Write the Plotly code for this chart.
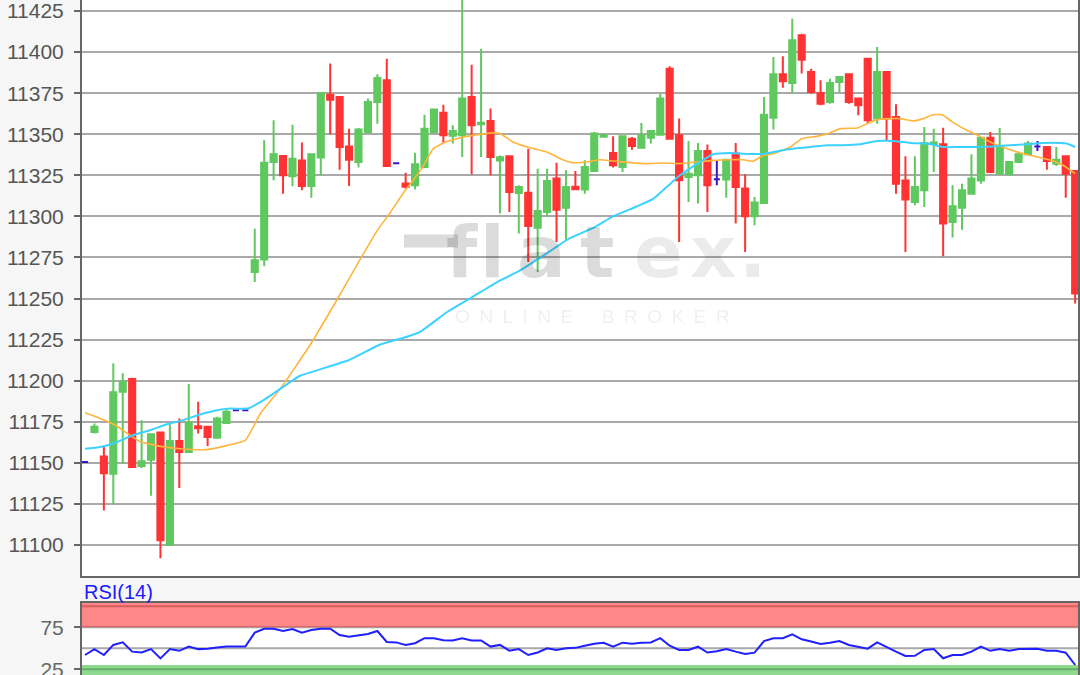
import plotly.graph_objects as go

# ---------------- data ----------------
opens = [11150.5, 11168.8, 11153.9, 11143.3, 11193.3, 11201.0, 11148.0, 11151.9, 11168.4, 11100.1,
         11163.3, 11156.6, 11172.2, 11171.9, 11165.3, 11174.3, 11182.0, 11182.0, 11266.2, 11273.7,
         11333.1, 11336.8, 11324.4, 11334.0, 11318.5, 11335.8, 11374.1, 11372.7, 11342.6, 11333.1,
         11351.4, 11369.6, 11382.8, 11332.3, 11320.0, 11318.9, 11330.1, 11351.4, 11363.0, 11349.0,
         11349.3, 11372.7, 11356.0, 11358.1, 11334.0, 11336.6, 11314.2, 11314.4, 11293.0, 11302.7,
         11323.0, 11305.3, 11318.0, 11316.3, 11327.6, 11348.5, 11338.6, 11330.1, 11347.3, 11341.8,
         11347.9, 11349.7, 11389.9, 11349.3, 11324.0, 11325.0, 11339.8, 11322.6, 11322.4, 11338.2,
         11316.9, 11300.0, 11308.2, 11360.1, 11386.5, 11381.2, 11410.2, 11387.9, 11375.1, 11369.6,
         11381.8, 11386.5, 11371.7, 11396.0, 11359.5, 11387.9, 11360.5, 11321.9, 11308.8, 11315.9,
         11344.0, 11343.9, 11296.6, 11305.3, 11313.8, 11321.9, 11347.9, 11326.0, 11325.6, 11333.1,
         11337.8, 11342.6, 11342.2, 11332.1, 11336.6, 11327.6]
highs = [11150.5, 11173.9, 11160.2, 11210.6, 11204.5, 11201.8, 11175.9, 11167.4, 11168.4, 11173.5,
         11177.0, 11198.0, 11187.2, 11171.9, 11178.0, 11182.5, 11182.0, 11182.0, 11292.5, 11346.3,
         11358.5, 11337.0, 11355.8, 11344.9, 11338.0, 11375.1, 11393.0, 11373.0, 11353.4, 11353.8,
         11371.7, 11386.5, 11396.0, 11332.3, 11326.6, 11338.8, 11361.9, 11365.6, 11368.0, 11355.4,
         11432.0, 11392.3, 11402.0, 11365.6, 11337.0, 11337.0, 11319.0, 11341.2, 11329.0, 11329.0,
         11332.7, 11328.0, 11327.6, 11334.1, 11351.4, 11350.0, 11348.7, 11349.3, 11348.3, 11356.8,
         11352.0, 11374.7, 11391.3, 11359.5, 11345.9, 11344.7, 11343.7, 11334.1, 11334.5, 11344.7,
         11325.6, 11311.8, 11372.7, 11397.0, 11397.4, 11420.3, 11411.2, 11389.9, 11382.8, 11383.8,
         11385.2, 11386.5, 11371.7, 11396.6, 11403.1, 11387.9, 11368.2, 11336.6, 11336.6, 11354.4,
         11353.4, 11354.0, 11318.9, 11319.9, 11337.8, 11348.3, 11351.4, 11353.8, 11333.1, 11339.2,
         11345.9, 11345.9, 11342.2, 11342.2, 11336.6, 11327.6]
lows = [11150.5, 11167.8, 11120.9, 11124.6, 11149.4, 11146.8, 11146.8, 11130.0, 11091.9, 11100.0,
        11134.7, 11156.6, 11167.8, 11160.2, 11164.7, 11174.3, 11182.0, 11182.0, 11260.0, 11269.6,
        11322.0, 11313.8, 11318.3, 11315.9, 11311.4, 11325.0, 11350.0, 11328.4, 11318.5, 11329.7,
        11350.4, 11356.4, 11330.0, 11332.3, 11317.0, 11316.3, 11329.7, 11351.0, 11344.7, 11344.3,
        11336.2, 11325.6, 11336.2, 11325.0, 11301.7, 11302.7, 11289.5, 11272.3, 11266.2, 11299.6,
        11284.4, 11285.0, 11316.5, 11313.8, 11327.0, 11348.0, 11329.7, 11327.0, 11340.6, 11341.8,
        11344.3, 11349.7, 11347.0, 11284.4, 11308.8, 11307.8, 11302.7, 11318.9, 11311.4, 11295.6,
        11278.3, 11294.6, 11308.0, 11352.8, 11378.3, 11375.1, 11386.9, 11374.7, 11367.6, 11368.6,
        11375.7, 11368.6, 11361.5, 11356.8, 11356.4, 11346.3, 11313.8, 11278.3, 11306.7, 11305.7,
        11327.0, 11275.7, 11287.1, 11291.9, 11313.8, 11319.9, 11327.0, 11325.6, 11325.6, 11333.1,
        11337.8, 11339.8, 11328.4, 11330.7, 11311.4, 11246.9]
closes = [11150.5, 11171.9, 11143.7, 11192.9, 11199.4, 11147.4, 11151.0, 11167.4, 11102.9, 11163.3,
          11156.6, 11174.3, 11171.0, 11165.7, 11177.0, 11181.0, 11182.0, 11182.0, 11273.3, 11332.7,
          11337.8, 11325.0, 11335.1, 11318.5, 11337.8, 11375.1, 11371.0, 11342.2, 11334.5, 11352.8,
          11369.6, 11384.2, 11330.7, 11332.3, 11318.0, 11331.7, 11353.4, 11365.0, 11349.3, 11352.0,
          11371.7, 11355.4, 11357.0, 11336.2, 11336.0, 11314.9, 11317.9, 11294.2, 11303.3, 11321.5,
          11304.1, 11317.9, 11316.5, 11330.1, 11350.4, 11349.5, 11331.1, 11348.7, 11342.8, 11349.3,
          11352.0, 11371.7, 11347.3, 11322.0, 11326.0, 11339.8, 11318.9, 11322.6, 11334.5, 11317.9,
          11300.0, 11308.4, 11361.9, 11386.5, 11382.2, 11407.2, 11395.4, 11375.7, 11368.6, 11381.2,
          11384.8, 11369.6, 11367.6, 11358.5, 11387.9, 11359.5, 11319.9, 11310.2, 11317.9, 11344.7,
          11345.0, 11295.6, 11306.1, 11315.9, 11323.0, 11347.9, 11327.0, 11342.2, 11333.1, 11337.8,
          11344.3, 11342.6, 11333.7, 11334.5, 11326.0, 11253.0]
# candles with open == close (drawn in blue)
unchanged = [0, 16, 17, 33, 67, 101]

# moving averages: (candle position, value) readings
ma_fast_x = [0, 1.6, 3.2, 4.2, 5.8, 8.0, 10.1, 12.9, 15.1, 17.0,
             18.6, 20.7, 23.9, 26.8, 28.1, 29.5, 31.0, 32.3, 33.7, 34.8,
             35.8, 36.9, 38.0, 39.4, 41.1, 43.3, 44.0, 45.4, 46.9, 49.0,
             50.4, 51.7, 53.2, 54.6, 56.0, 57.8, 59.6, 61.3, 63.1, 64.9,
             66.6, 68.4, 69.8, 70.8, 71.9, 73.0, 74.8, 76.0, 77.6, 79.0,
             80.1, 81.9, 82.9, 84.0, 85.4, 86.4, 87.8, 88.9, 89.9, 90.9,
             92.0, 93.5, 94.9, 96.3, 97.8, 99.2, 101.0, 102.7, 103.7, 105.0]
ma_fast_y = [11180.4, 11177, 11173, 11169, 11163, 11160, 11158.6, 11158, 11160.6, 11163.7,
             11180, 11195, 11222, 11250, 11263, 11277, 11291.5, 11301.7, 11313.8, 11322,
             11330, 11341, 11344.7, 11347.3, 11349.3, 11350.8, 11350.4, 11345.3, 11342.2, 11339.2,
             11335.1, 11332.7, 11333.1, 11334.5, 11333.7, 11332.7, 11332.1, 11332.5, 11332.1, 11333.1,
             11334.1, 11334.5, 11334.5, 11333.5, 11337, 11338.2, 11342.2, 11347.3, 11348.7, 11350.8,
             11353.4, 11353.8, 11356.4, 11358.9, 11359.5, 11359.5, 11358.1, 11359.5, 11361.9, 11361.9,
             11357.4, 11352.4, 11348.7, 11344.3, 11341.2, 11338.6, 11336.2, 11333.7, 11331.1, 11326]
ma_slow_x = [0, 1.6, 3.4, 5.1, 6.9, 8.7, 10.4, 12.2, 14.0, 15.4,
             17.2, 18.9, 20.7, 22.8, 25.0, 28.0, 31.3, 33.4, 35.5, 38.4,
             41.1, 43.7, 46.1, 49.0, 51.4, 53.9, 56.0, 58.5, 60.2, 61.7,
             63.1, 64.9, 66.6, 68.4, 70.2, 71.9, 73.7, 75.1, 76.9, 78.7,
             80.4, 82.2, 84.0, 85.7, 87.5, 89.3, 91.0, 92.8, 94.6, 96.3,
             98.1, 99.9, 101.6, 103.4, 104.1, 105.0]
ma_slow_y = [11158.5, 11159.6, 11162.7, 11166.8, 11169.8, 11173.5, 11176, 11179.4, 11182, 11183,
             11183, 11188, 11195, 11203, 11207, 11212.6, 11222, 11225.5, 11229.6, 11241.8,
             11251, 11260, 11267, 11277.6, 11286.7, 11293, 11300, 11306, 11310.5, 11318,
             11325, 11332, 11337.8, 11338.6, 11338, 11338, 11340, 11341.2, 11342.2, 11343.3,
             11343.3, 11343.9, 11345.9, 11345.9, 11344.7, 11344.3, 11342.2, 11342.2, 11342.2, 11342.6,
             11343.3, 11343.9, 11344.7, 11344.7, 11344.3, 11342.2]

rsi = [42, 49, 42, 54, 57, 46, 45, 49, 38, 49,
       47, 52, 49, 49.5, 51, 52, 52, 52, 68.6, 73.3,
       73.3, 70.6, 73, 68.6, 71.8, 73.3, 73.3, 65.8, 63.8, 65.5,
       67, 70.6, 57.5, 57, 54, 56, 62, 62, 59.5, 59.3,
       62, 59.3, 59.3, 52, 54, 47.2, 49, 42, 45, 50,
       48, 50, 50.5, 53, 55.5, 56.5, 52, 56.7, 55.5, 56.7,
       57, 62, 53, 48, 48, 51.9, 45, 46.5, 49.2, 46,
       43.2, 44.8, 58.5, 61.9, 61.9, 66.7, 60.7, 58, 55, 56.5,
       58.7, 54, 52, 49.5, 57.1, 52, 46, 40.8, 41, 48,
       49.2, 38.1, 42, 42, 46, 51.9, 47, 49.2, 47.1, 49,
       49.5, 49.5, 47.1, 47, 44.8, 30.1]

price_ticks = [11100, 11125, 11150, 11175, 11200, 11225, 11250, 11275,
               11300, 11325, 11350, 11375, 11400, 11425]
rsi_ticks = [25, 75]
rsi_grid = [25, 50, 75, 100]
overbought = 75
oversold = 30

# ---------------- figure ----------------
idx = list(range(len(opens)))
normal = [i for i in idx if i not in unchanged]

GREEN = "#5fc85f"
RED = "#ff3333"
BLUE = "#3a14c8"
AXIS = "#666666"
GRID = "#a9a9a9"

fig = go.Figure()

fig.add_trace(go.Candlestick(
    x=normal,
    open=[opens[i] for i in normal], high=[highs[i] for i in normal],
    low=[lows[i] for i in normal], close=[closes[i] for i in normal],
    increasing=dict(line=dict(color=GREEN, width=2), fillcolor=GREEN),
    decreasing=dict(line=dict(color=RED, width=2), fillcolor=RED),
    whiskerwidth=0, xaxis="x", yaxis="y", hoverinfo="skip",
))
fig.add_trace(go.Candlestick(
    x=unchanged,
    open=[opens[i] for i in unchanged], high=[highs[i] for i in unchanged],
    low=[lows[i] for i in unchanged], close=[closes[i] for i in unchanged],
    increasing=dict(line=dict(color=BLUE, width=2), fillcolor=BLUE),
    decreasing=dict(line=dict(color=BLUE, width=2), fillcolor=BLUE),
    whiskerwidth=0, xaxis="x", yaxis="y", hoverinfo="skip",
))
fig.add_trace(go.Scatter(x=ma_fast_x, y=ma_fast_y, mode="lines",
                         line=dict(color="#ffb43c", width=1.6, shape="spline", smoothing=0.4),
                         xaxis="x", yaxis="y", hoverinfo="skip"))
fig.add_trace(go.Scatter(x=ma_slow_x, y=ma_slow_y, mode="lines",
                         line=dict(color="#3cd2ff", width=2, shape="spline", smoothing=0.4),
                         xaxis="x", yaxis="y", hoverinfo="skip"))
fig.add_trace(go.Scatter(x=idx, y=rsi, mode="lines",
                         line=dict(color="#1f1fff", width=2),
                         xaxis="x2", yaxis="y2", hoverinfo="skip"))

W, H = 1080, 675
L, R = 82, 2
plot_w = W - L - R


def px(xp):
    return (xp - L) / plot_w


def py(yp):
    return (H - yp) / H


xrange_ = [-0.32, 105.3]
TICKFONT = dict(family="Arial, Liberation Sans", size=21, color="#555555")

fig.update_layout(
    width=W, height=H,
    margin=dict(l=L, r=R, t=0, b=0, pad=0, autoexpand=False),
    paper_bgcolor="#f6f6f6", plot_bgcolor="white",
    showlegend=False,
    boxgap=0.35, boxgroupgap=0,
    xaxis=dict(domain=[0, 1], range=xrange_, anchor="y", showgrid=False, zeroline=False,
               showticklabels=False, ticks="", showline=True, linecolor=AXIS, linewidth=2,
               mirror=False, rangeslider=dict(visible=False), automargin=False),
    yaxis=dict(domain=[py(576), 1], range=[11081.1, 11431.7], anchor="x",
               tickmode="array", tickvals=price_ticks, tickformat="d",
               showgrid=True, gridcolor=GRID, gridwidth=2, zeroline=False,
               showline=True, linecolor=AXIS, linewidth=2, mirror=True,
               ticks="outside", ticklen=6, tickwidth=2, tickcolor=AXIS,
               ticklabelstandoff=6, ticklabeloverflow="allow",
               tickfont=TICKFONT, automargin=False),
    xaxis2=dict(domain=[0, 1], range=xrange_, anchor="y2", showgrid=False, zeroline=False,
                showticklabels=False, ticks="", showline=True, linecolor=AXIS, linewidth=2,
                mirror=True, rangeslider=dict(visible=False), automargin=False),
    yaxis2=dict(domain=[0, py(603)], range=[18.2, 103.9], anchor="x2",
                tickmode="array", tickvals=rsi_ticks, tickformat="d",
                showgrid=False, zeroline=False,
                showline=True, linecolor=AXIS, linewidth=2, mirror=True,
                ticks="outside", ticklen=6, tickwidth=2, tickcolor=AXIS,
                ticklabelstandoff=6, ticklabeloverflow="allow",
                tickfont=dict(family="Arial, Liberation Sans", size=21, color="#666666"),
                automargin=False),
)

# RSI reference lines (below) and zones (semi-transparent, above the grid)
for g in rsi_grid:
    fig.add_shape(type="line", xref="x2 domain", yref="y2", x0=0, x1=1, y0=g, y1=g,
                  line=dict(color=GRID, width=2), layer="below")
fig.add_shape(type="rect", xref="x2 domain", yref="y2", x0=0, x1=1, y0=overbought, y1=110,
              fillcolor="rgba(255,25,25,0.52)", line=dict(width=0), layer="above")
fig.add_shape(type="rect", xref="x2 domain", yref="y2", x0=0, x1=1, y0=0, y1=oversold,
              fillcolor="rgba(40,180,40,0.52)", line=dict(width=0), layer="above")

# RSI title
fig.add_annotation(text="RSI(14)", xref="paper", yref="paper", x=0, y=py(592),
                   xanchor="left", yanchor="middle", showarrow=False,
                   font=dict(family="Arial, Liberation Sans", size=20, color="#1a1aff"))

# watermark
wm_dark = "rgba(0,0,0,0.14)"
wm_light = "rgba(0,0,0,0.08)"
fig.add_shape(type="line", xref="paper", yref="paper", x0=px(404), x1=px(458), y0=py(241), y1=py(241),
              line=dict(color=wm_dark, width=13), layer="above")
for ch, cx, col in [("f", 462, wm_dark), ("l", 492, wm_dark), ("a", 541, wm_dark),
                    ("t", 597, wm_dark), ("e", 658, wm_light), ("x", 713, wm_light),
                    (".", 752, wm_light)]:
    fig.add_annotation(text="<b>%s</b>" % ch, xref="paper", yref="paper", x=px(cx), y=py(252),
                       xanchor="center", yanchor="middle", showarrow=False,
                       font=dict(family="DejaVu Sans", size=72, color=col))
fig.add_annotation(text="\u2002".join(list("ONLINE")) + "\u2002\u2002\u2002" + "\u2002".join(list("BROKER")),
                   xref="paper", yref="paper", x=px(592), y=py(316),
                   xanchor="center", yanchor="middle", showarrow=False,
                   font=dict(family="Arial, Liberation Sans", size=19, color=wm_light))

fig.write_html("out.html",
               config={"displayModeBar": False, "staticPlot": True},
               post_script="document.body.style.margin='0px';document.body.style.overflow='hidden';")
